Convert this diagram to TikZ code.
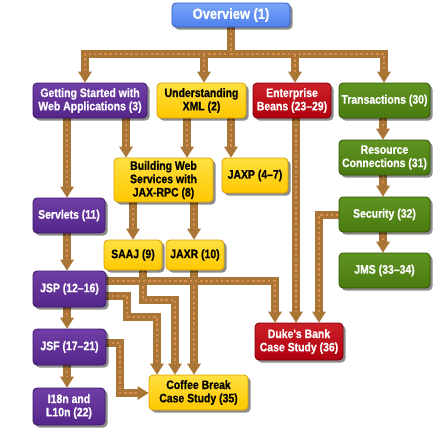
\documentclass[tikz,border=0pt]{standalone}
\usepackage{fontspec}
\setmainfont{Liberation Sans}
\newfontfamily\boxfont[FakeStretch=0.85,BoldFeatures={FakeBold=0.6}]{Liberation Sans}
\newfontfamily\ovfont[FakeStretch=0.87,BoldFeatures={FakeBold=0.6}]{Liberation Sans}
\usetikzlibrary{arrows.meta,shadows,backgrounds}
\definecolor{pu}{HTML}{55268A}
\definecolor{pul}{HTML}{6F3EA6}
\definecolor{pud}{HTML}{3C1866}
\definecolor{ye}{HTML}{FFC800}
\definecolor{yel}{HTML}{FFE040}
\definecolor{yed}{HTML}{D9A000}
\definecolor{re}{HTML}{B0000E}
\definecolor{rel}{HTML}{CC2028}
\definecolor{red2}{HTML}{780008}
\definecolor{gr}{HTML}{4A7A10}
\definecolor{grl}{HTML}{609420}
\definecolor{grd}{HTML}{305206}
\definecolor{bl}{HTML}{4E80EC}
\definecolor{bll}{HTML}{7AA4F8}
\definecolor{bld}{HTML}{2E5AC0}
\definecolor{cbase}{HTML}{AA7638}
\definecolor{cdot}{HTML}{D98E4A}
\tikzset{
  boxbase/.style={rounded corners=4pt, line width=0.8pt, align=center, inner sep=0pt,
    font=\boxfont\bfseries\fontsize{12.3}{13.3}\selectfont,
    drop shadow={shadow xshift=2.5pt, shadow yshift=-2.5pt, opacity=0.45, fill=black}},
  purplebox/.style={boxbase, draw=pud, top color=pul, bottom color=pu, text=white},
  yellowbox/.style={boxbase, draw=yed, top color=yel, bottom color=ye, text=black},
  redbox/.style={boxbase, draw=red2, top color=rel, bottom color=re, text=white},
  greenbox/.style={boxbase, draw=grd, top color=grl, bottom color=gr, text=white},
  bluebox/.style={boxbase, draw=bld, top color=bll, bottom color=bl, text=white,
    font=\ovfont\bfseries\fontsize{14.8}{16}\selectfont},
  arr/.style={draw=cbase, line width=7.5pt, line join=miter,
    -{Triangle[width=14pt,length=11pt,line width=0pt]},
    postaction={draw=cdot, line width=2.8pt, dash pattern=on 2.6pt off 2.6pt, -, shorten >=11pt}},
}
\begin{document}
\begin{tikzpicture}[x=1pt,y=-1pt]
\useasboundingbox (0,0) rectangle (436,429);
% nodes
\node[bluebox, minimum width=118pt, minimum height=24pt] (ov) at (231,15) {Overview (1)};
\node[purplebox, minimum width=114pt, minimum height=35pt] (gs) at (90,100.5) {Getting Started with\\Web Applications (3)};
\node[yellowbox, minimum width=89pt, minimum height=35pt] (ux) at (201.5,100.5) {Understanding\\XML (2)};
\node[redbox, minimum width=78pt, minimum height=35pt] (eb) at (292,100.5) {Enterprise\\Beans (23–29)};
\node[greenbox, minimum width=91pt, minimum height=35pt] (tr) at (384.5,100.5) {Transactions (30)};
\node[greenbox, minimum width=91pt, minimum height=35pt] (rc) at (384.5,157.5) {Resource\\Connections (31)};
\node[greenbox, minimum width=91pt, minimum height=35pt] (se) at (384.5,214.5) {Security (32)};
\node[greenbox, minimum width=91pt, minimum height=35pt] (jms) at (384.5,270.5) {JMS (33–34)};
\node[yellowbox, minimum width=99pt, minimum height=44pt] (bws) at (163.5,180) {Building Web\\Services with\\JAX-RPC (8)};
\node[yellowbox, minimum width=66pt, minimum height=35pt] (jaxp) at (255,175.5) {JAXP (4–7)};
\node[purplebox, minimum width=72pt, minimum height=35pt] (sv) at (69,215.5) {Servlets (11)};
\node[yellowbox, minimum width=58pt, minimum height=30pt] (saaj) at (133,255) {SAAJ (9)};
\node[yellowbox, minimum width=58pt, minimum height=30pt] (jaxr) at (195,255) {JAXR (10)};
\node[purplebox, minimum width=73pt, minimum height=36pt] (jsp) at (69.5,289) {JSP (12–16)};
\node[purplebox, minimum width=73pt, minimum height=36pt] (jsf) at (69.5,347) {JSF (17–21)};
\node[purplebox, minimum width=72pt, minimum height=37pt] (i18) at (69,406.5) {I18n and\\L10n (22)};
\node[yellowbox, minimum width=99pt, minimum height=35pt] (cb) at (198.5,392.5) {Coffee Break\\Case Study (35)};
\node[redbox, minimum width=88pt, minimum height=37pt] (db) at (299,341.5) {Duke's Bank\\Case Study (36)};
% connector guide coordinates
\coordinate (xa) at (85,54);
\coordinate (xb) at (204,54);
\coordinate (xc) at (295,54);
\coordinate (xd) at (384,54);
\coordinate (xp) at (67,0);
\coordinate (xg) at (126,0);
\coordinate (xu) at (187,0);
\coordinate (xj) at (231,0);
\coordinate (xt) at (383,0);
\coordinate (xe) at (296,0);
\coordinate (s1) at (319,215);
\coordinate (j1) at (275,281);
\coordinate (k1) at (127,296);
\coordinate (k2) at (157,317);
\coordinate (m1) at (143,300);
\coordinate (m2) at (175,300);
\coordinate (xr) at (194,0);
\coordinate (f1) at (120,343);
\coordinate (f2) at (120,393);
\begin{scope}[on background layer]
\draw[arr] (ov.south) |- (xa) -- (xa |- gs.north);
\draw[arr] (ov.south) |- (xd) -- (xd |- tr.north);
\draw[arr] (xb) -- (xb |- ux.north);
\draw[arr] (xc) -- (xc |- eb.north);
\draw[arr] (xp |- gs.south) -- (xp |- sv.north);
\draw[arr] (xp |- sv.south) -- (xp |- jsp.north);
\draw[arr] (xp |- jsp.south) -- (xp |- jsf.north);
\draw[arr] (xp |- jsf.south) -- (xp |- i18.north);
\draw[arr] (xg |- gs.south) -- (xg |- bws.north);
\draw[arr] (xu |- ux.south) -- (xu |- bws.north);
\draw[arr] (xj |- ux.south) -- (xj |- jaxp.north);
\draw[arr] (xt |- tr.south) -- (xt |- rc.north);
\draw[arr] (xt |- rc.south) -- (xt |- se.north);
\draw[arr] (xt |- se.south) -- (xt |- jms.north);
\draw[arr] (saaj.north |- bws.south) -- (saaj.north);
\draw[arr] (xr |- bws.south) -- (xr |- jaxr.north);
\draw[arr] (xe |- eb.south) -- (xe |- db.north);
\draw[arr] (se.west |- s1) -- (s1) -- (s1 |- db.north);
\draw[arr] (m1 |- saaj.south) -- (m1) -- (m2) -- (m2 |- cb.north);
\draw[arr] (xr |- jaxr.south) -- (xr |- cb.north);
\draw[arr] (jsp.east |- k1) -- (k1) |- (k2) -- (k2 |- cb.north);
\draw[arr] (jsp.east |- j1) -- (j1) -- (j1 |- db.north);
\draw[arr] (jsf.east |- f1) -- (f1) -- (f2) -- (cb.west |- f2);
\end{scope}
\end{tikzpicture}
\end{document}
